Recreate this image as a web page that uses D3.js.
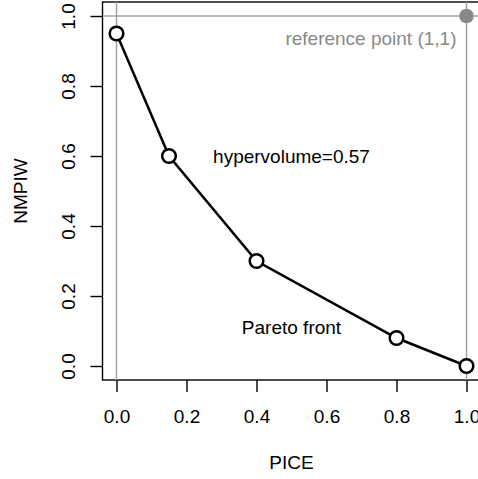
<!DOCTYPE html>
<html>
<head>
<meta charset="utf-8">
<script src="https://cdn.jsdelivr.net/npm/d3@7"></script>
<style>
  html, body { margin: 0; padding: 0; background: #fff; }
  svg { display: block; }
  text { font-family: "Liberation Sans", Arial, sans-serif; }
</style>
</head>
<body>
<svg id="chart" width="478" height="479"></svg>
<script>
// Pareto front points (PICE vs NMPIW)
const pice  = [0.0, 0.15, 0.4, 0.8, 1.0];
const nmpiw = [0.95, 0.6, 0.3, 0.08, 0.0];
const xTicks = [0.0, 0.2, 0.4, 0.6, 0.8, 1.0];
const yTicks = [0.0, 0.2, 0.4, 0.6, 0.8, 1.0];
const refPoint = [1, 1];
const hypervolume = 0.57;

const svg = d3.select("#chart");
const fs = 19;

// data range 0..1 padded by 4% on each side
const x = d3.scaleLinear().domain([-0.04, 1.04]).range([102.5, 480.5]);
const y = d3.scaleLinear().domain([-0.04, 1.04]).range([380, 2]);

// plot frame
svg.append("rect")
  .attr("x", x(-0.04)).attr("y", y(1.04))
  .attr("width", x(1.04) - x(-0.04)).attr("height", y(-0.04) - y(1.04))
  .attr("fill", "none").attr("stroke", "#000").attr("stroke-width", 1.4);

// reference lines
const grey = "#a3a3a3";
svg.append("line")
  .attr("x1", x(-0.04)).attr("x2", x(1.04))
  .attr("y1", y(refPoint[1])).attr("y2", y(refPoint[1]))
  .attr("stroke", grey).attr("stroke-width", 1.5);
[0, refPoint[0]].forEach(v => {
  svg.append("line")
    .attr("x1", x(v)).attr("x2", x(v))
    .attr("y1", y(1.04)).attr("y2", y(-0.04))
    .attr("stroke", grey).attr("stroke-width", 1.5);
});

// x axis
const xAxis = svg.append("g").attr("transform", `translate(0,${y(-0.04)})`)
  .call(d3.axisBottom(x).tickValues(xTicks).tickFormat(d3.format(".1f")).tickSize(12).tickPadding(17.5));
xAxis.select(".domain").remove();
xAxis.selectAll("line").attr("stroke", "#000").attr("stroke-width", 1.4);
xAxis.selectAll("text").attr("font-size", fs).attr("fill", "#000")
  .attr("font-family", "Liberation Sans, Arial, sans-serif");

// y axis with rotated labels
const yAxis = svg.append("g").attr("transform", `translate(${x(-0.04)},0)`)
  .call(d3.axisLeft(y).tickValues(yTicks).tickFormat(d3.format(".1f")).tickSize(12));
yAxis.select(".domain").remove();
yAxis.selectAll("line").attr("stroke", "#000").attr("stroke-width", 1.4);
yAxis.selectAll("text").remove();
yAxis.selectAll(".tick").append("text")
  .attr("transform", "translate(-34,0) rotate(-90)")
  .attr("text-anchor", "middle")
  .attr("dy", "0.35em")
  .attr("font-size", fs).attr("fill", "#000")
  .attr("font-family", "Liberation Sans, Arial, sans-serif")
  .text(d3.format(".1f"));

// axis titles
svg.append("text").attr("x", 291.5).attr("y", 469)
  .attr("text-anchor", "middle").attr("font-size", fs).text("PICE");
svg.append("text")
  .attr("transform", "translate(27,191) rotate(-90)")
  .attr("text-anchor", "middle").attr("font-size", fs).text("NMPIW");

// front line and points
const pts = pice.map((p, i) => [p, nmpiw[i]]);
svg.append("path")
  .datum(pts)
  .attr("d", d3.line().x(d => x(d[0])).y(d => y(d[1])))
  .attr("fill", "none").attr("stroke", "#000").attr("stroke-width", 2.5);
svg.selectAll("circle.front").data(pts).enter().append("circle")
  .attr("class", "front")
  .attr("cx", d => x(d[0])).attr("cy", d => y(d[1])).attr("r", 6.8)
  .attr("fill", "#fff").attr("stroke", "#000").attr("stroke-width", 2.5);

// reference point
svg.append("circle")
  .attr("cx", x(refPoint[0])).attr("cy", y(refPoint[1])).attr("r", 7.3)
  .attr("fill", "#898989");
svg.append("text")
  .attr("x", x(refPoint[0]) - 10).attr("y", 45)
  .attr("text-anchor", "end").attr("font-size", fs).attr("fill", "#898989")
  .text(`reference point (${refPoint[0]},${refPoint[1]})`);

// annotations
svg.append("text").attr("x", x(0.5)).attr("y", y(0.6)).attr("dy", "0.36em")
  .attr("text-anchor", "middle").attr("font-size", fs)
  .text(`hypervolume=${hypervolume}`);
svg.append("text").attr("x", x(0.5)).attr("y", y(0.11)).attr("dy", "0.36em")
  .attr("text-anchor", "middle").attr("font-size", fs)
  .text("Pareto front");
</script>
</body>
</html>
